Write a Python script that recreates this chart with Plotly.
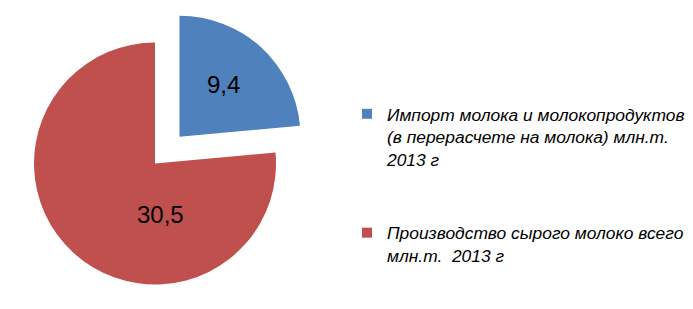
import math
import plotly.graph_objects as go

# ---- data ----
labels = [
    "Импорт молока и молокопродуктов<br>(в перерасчете на молока) млн.т.<br>2013 г",
    "Производство сырого молоко всего<br>млн.т.  2013 г",
]
values = [9.4, 30.5]
colors = ["#4F81BD", "#C0504D"]
pulls = [0.30, 0.0]          # exploded fraction of radius per slice

# ---- layout geometry (page pixels; the page body has an 8px margin) ----
OFF = 8
W, H = 693 - OFF, 309 - OFF
cx, cy, R = 155 - OFF, 163.5 - OFF, 121
label_pos = [(223.5 - OFF, 84 - OFF), (160 - OFF, 214 - OFF)]  # value label centres

fig = go.Figure()
total = sum(values)
cum = 0.0
for i, (v, p) in enumerate(zip(values, pulls)):
    mid = (cum + v / 2) / total * 2 * math.pi
    cum += v
    ox = cx + p * R * math.sin(mid)
    oy = cy - p * R * math.cos(mid)
    slice_colors = [c if j == i else "rgba(0,0,0,0)" for j, c in enumerate(colors)]
    fig.add_trace(go.Pie(
        labels=labels, values=values, sort=False, direction="clockwise",
        rotation=0, textinfo="none", hoverinfo="skip", showlegend=False,
        marker=dict(colors=slice_colors, line=dict(width=0)),
        domain=dict(x=[(ox - R) / W, (ox + R) / W],
                    y=[(H - oy - R) / H, (H - oy + R) / H]),
    ))

# legend entries
for i, (lab, c) in enumerate(zip(labels, colors)):
    fig.add_trace(go.Scatter(
        x=[None], y=[None], mode="markers", name=lab, legendgroup=f"g{i}",
        marker=dict(symbol="square", size=10, color=c),
    ))

for v, (px, py) in zip(values, label_pos):
    fig.add_annotation(
        text=f"{v:.1f}".replace(".", ","), x=px / W, y=(H - py) / H,
        xref="paper", yref="paper", xanchor="center", yanchor="middle",
        showarrow=False,
        font=dict(family="Liberation Sans", size=24, color="black"),
    )

fig.update_layout(
    width=W, height=H, margin=dict(l=0, r=0, t=0, b=0),
    paper_bgcolor="white", plot_bgcolor="white",
    xaxis=dict(visible=False), yaxis=dict(visible=False),
    showlegend=True,
    legend=dict(
        x=339 / W, y=(H - 88) / H, xanchor="left", yanchor="top",
        traceorder="grouped", tracegroupgap=48, valign="top",
        font=dict(family="Liberation Sans", size=17.4, color="black", style="italic"),
        bgcolor="rgba(0,0,0,0)",
    ),
)

fig.write_html("out.html")
